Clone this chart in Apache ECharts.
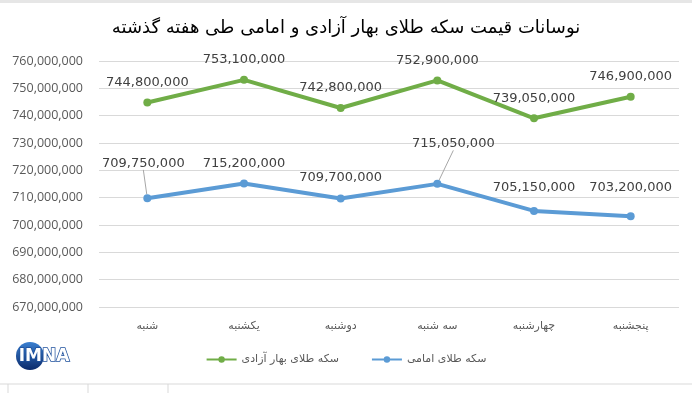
<!DOCTYPE html>
<html><head><meta charset="utf-8">
<script src="https://cdn.jsdelivr.net/npm/echarts@6/dist/echarts.min.js"></script>
<style>html,body{margin:0;padding:0;background:#fff}#c{width:692px;height:393px}</style>
</head><body><div id="c"></div>
<script>
const titleText = 'نوسانات قیمت سکه طلای بهار آزادی و امامی طی هفته گذشته';
const categories = ['شنبه','یکشنبه','دوشنبه','سه شنبه','چهارشنبه','پنجشنبه'];
const seriesNames = ['سکه طلای بهار آزادی','سکه طلای امامی'];
const baharAzadi = [744800000, 753100000, 742800000, 752900000, 739050000, 746900000];
const emami = [709750000, 715200000, 709700000, 715050000, 705150000, 703200000];
const yMin = 670000000, yMax = 760000000, yStep = 10000000;

const greenDy = [-20, -20, -20, -20, -20, -20];
const blueDy = [-35, -20, -21, -40, -23, -29];
const blueDx = [-4, 0, 0, 16, 0, 0];
const fmt = v => v.toLocaleString('en-US');
const chart = echarts.init(document.getElementById('c'));
const lbl = {show:true, position:'inside', formatter: p => fmt(p.value), color:'#404040', fontSize:13, fontFamily:'"DejaVu Sans", sans-serif'};
chart.setOption({
  animation:false,
  title:{text:titleText, left:'center', top:14, textStyle:{fontFamily:'"DejaVu Sans", sans-serif', fontWeight:'normal', fontSize:18, color:'#000'}},
  grid:{left:99, right:13, top:61, bottom:86},
  legend:{left:'center', top:349, itemGap:32, itemWidth:30, itemHeight:8, textStyle:{fontFamily:'"DejaVu Sans", sans-serif', fontSize:11, color:'#595959'},
    data: seriesNames},
  xAxis:{type:'category', data:categories, axisLine:{show:false}, axisTick:{show:false},
    axisLabel:{color:'#595959', fontSize:11, margin:14, fontFamily:'"DejaVu Sans", sans-serif'}},
  yAxis:{type:'value', min:yMin, max:yMax, interval:yStep,
    axisLabel:{formatter:v=>fmt(v), color:'#595959', fontSize:12.5, margin:16, fontFamily:'"Open Sans", sans-serif'},
    splitLine:{lineStyle:{color:'#d9d9d9'}}},
  series:[
    {name:seriesNames[0], type:'line', data:baharAzadi, color:'#70AD47', symbol:'circle', symbolSize:8,
      lineStyle:{width:4}, label:lbl,
      labelLayout: p => ({dy: greenDy[p.dataIndex]})},
    {name:seriesNames[1], type:'line', data:emami.map((v,i)=>({value:v, labelLine:{show: i===0||i===3}})), color:'#5B9BD5', symbol:'circle', symbolSize:8,
      lineStyle:{width:4}, label:lbl,
      labelLine:{show:false, lineStyle:{color:'#a6a6a6', width:1}},
      labelLayout: p => ({dy: blueDy[p.dataIndex], dx: blueDx[p.dataIndex]})}
  ],
  graphic:[
    {type:'rect', shape:{x:0,y:0,width:692,height:3}, style:{fill:'#e6e6e6'}},
    {type:'line', shape:{x1:0,y1:384,x2:692,y2:384}, style:{stroke:'#d9d9d9', lineWidth:1}},
    {type:'line', shape:{x1:8,y1:384,x2:8,y2:393}, style:{stroke:'#d9d9d9'}},
    {type:'line', shape:{x1:88,y1:384,x2:88,y2:393}, style:{stroke:'#d9d9d9'}},
    {type:'line', shape:{x1:168,y1:384,x2:168,y2:393}, style:{stroke:'#d9d9d9'}},
    {type:'circle', shape:{cx:30,cy:356,r:14}, style:{fill:{type:'linear',x:0,y:0,x2:0,y2:1,colorStops:[{offset:0,color:'#3a7fd0'},{offset:1,color:'#0b2a6b'}]}}},
    {type:'text', left:18, top:347, style:{text:'IMNA', fill:'#fff', stroke:'#1c4f9c', lineWidth:1.5, fontSize:17, fontWeight:'bold', fontFamily:'"DejaVu Sans", sans-serif'}}
  ]
});
</script></body></html>
